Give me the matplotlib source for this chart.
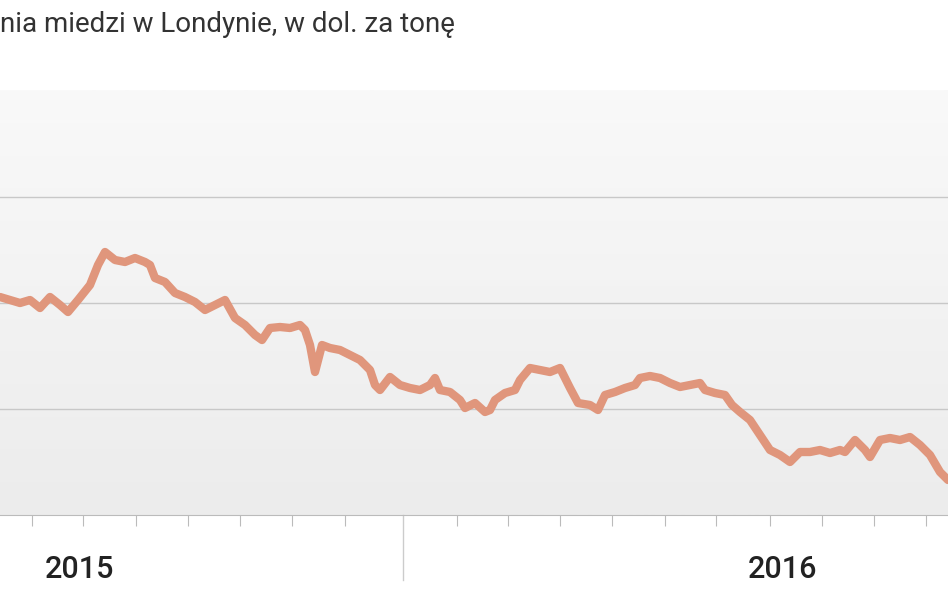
import numpy as np
import matplotlib.pyplot as plt

# horizontal position (chart units) and price (USD per tonne)
pos = [0, 10, 20, 30, 40, 50, 60, 68, 78, 90, 98, 105, 115, 125, 135, 145, 150, 155, 165, 175,
       185, 195, 205, 215, 225, 235, 245, 255, 262, 270, 280, 290, 300, 305, 310, 315, 322, 330,
       340, 350, 360, 370, 375, 380, 390, 400, 410, 420, 430, 435, 440, 450, 460, 465, 475, 485,
       490, 495, 505, 515, 520, 530, 540, 550, 560, 570, 578, 590, 598, 605, 615, 625, 635, 640,
       650, 660, 670, 680, 690, 700, 705, 715, 725, 732, 740, 750, 760, 770, 780, 790, 800, 810,
       820, 830, 840, 845, 855, 865, 870, 880, 890, 900, 910, 920, 930, 940, 948]
pix = [297, 300, 303, 300, 308, 297, 305, 312, 300, 285, 265, 252, 260, 262, 258, 262, 265, 278,
       282, 293, 297, 302, 310, 305, 300, 318, 325, 335, 340, 328, 327, 328, 325, 330, 345, 372,
       345, 348, 350, 355, 360, 370, 385, 390, 377, 385, 388, 390, 385, 378, 390, 392, 400, 408,
       403, 412, 410, 400, 393, 390, 380, 368, 370, 372, 368, 388, 403, 405, 410, 395, 392, 388,
       385, 378, 376, 378, 383, 387, 385, 383, 390, 393, 395, 405, 412, 420, 435, 450, 455, 462,
       452, 452, 450, 453, 450, 452, 440, 450, 457, 440, 438, 440, 437, 445, 455, 472, 480]
price = [4000 + (515 - p) * 500 / 106 for p in pix]

grid_levels = [4500, 5000, 5500]
tick_pos = [32, 83, 136, 188, 240, 292, 345, 457, 508, 560, 612, 665, 716, 770, 822, 874, 926]
year_labels = ["2015", "2016"]
year_pos = [80, 783]
divider = 403

fig = plt.figure(figsize=(9.48, 5.93), dpi=100)
ax = fig.add_axes([0, 1 - 515 / 593, 1, 425 / 593])
ax.set_xlim(0, 948)
ymin = 4000
ymax = 4000 + 425 * 500 / 106
ax.set_ylim(ymin, ymax)

grad = np.linspace(0, 1, 256).reshape(-1, 1)
ax.imshow(grad, extent=[0, 948, ymin, ymax], aspect='auto', origin='lower',
          cmap=plt.matplotlib.colors.LinearSegmentedColormap.from_list('g', ['#ececec', '#f9f9f9']),
          zorder=0)
for g in grid_levels:
    ax.axhline(g, color='#c8c8c8', lw=1, zorder=1)
ax.plot(pos, price, color='#e0967c', lw=6, solid_capstyle='round', zorder=3)

for s in ['top', 'right', 'left']:
    ax.spines[s].set_visible(False)
ax.spines['bottom'].set_color('#bbbbbb')
ax.set_yticks([])
ax.set_xticks(tick_pos)
ax.set_xticklabels([])
ax.tick_params(axis='x', length=8, color='#bbbbbb')
ax.plot([divider, divider], [ymin, ymin - 65 * 500 / 106], color='#cccccc', lw=1, clip_on=False)
for lab, xp in zip(year_labels, year_pos):
    ax.text(xp, ymin - 55 * 500 / 106, lab, ha='center', va='center', fontsize=22,
            fontweight='medium', family='Roboto', color='#222222', clip_on=False)

fig.text(0.0, 1 - 25 / 593, "nia miedzi w Londynie, w dol. za tonę", fontsize=20,
         family='Roboto', color='#333333', va='center', ha='left')
fig.savefig('out.png', dpi=100, facecolor='white')
